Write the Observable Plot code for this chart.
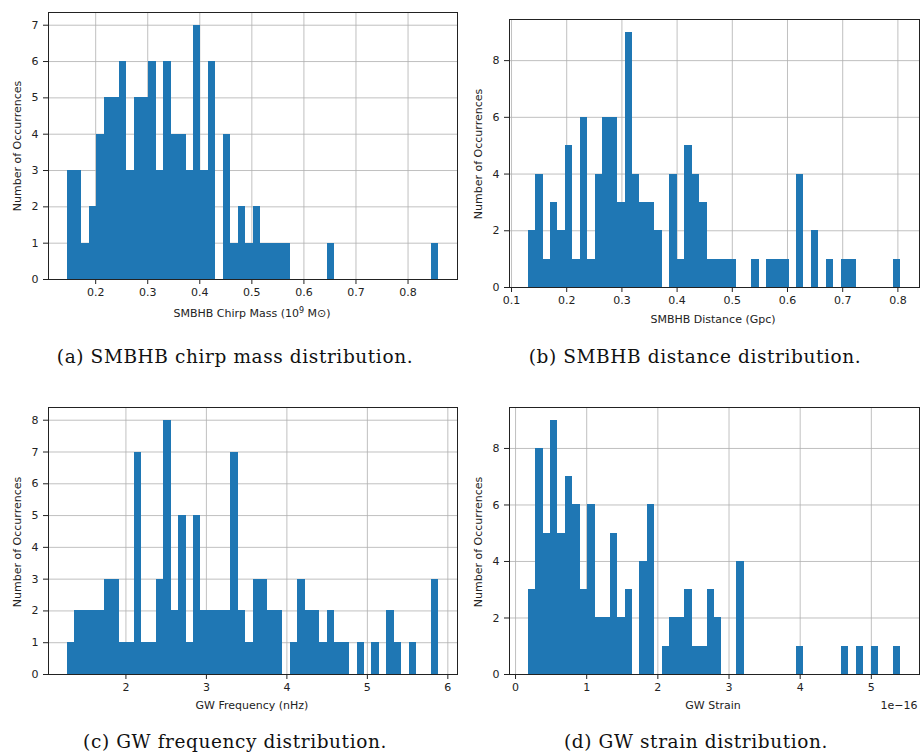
<!DOCTYPE html>
<html>
<head>
<meta charset="utf-8">
<script src="https://cdn.jsdelivr.net/npm/d3@7"></script>
<script src="https://cdn.jsdelivr.net/npm/@observablehq/plot@0.6"></script>
<style>
  html, body { margin: 0; padding: 0; background: #fff; }
  #wrap { position: relative; width: 920px; height: 753px; background: #fff; overflow: hidden; }
  #wrap svg { position: absolute; }
  .lab { position: absolute; font-family: "DejaVu Sans", sans-serif; font-size: 11px; color: #222; white-space: nowrap; transform: translate(-50%, -50%); }
  .ylab { position: absolute; font-family: "DejaVu Sans", sans-serif; font-size: 11px; color: #222; white-space: nowrap; transform: translate(-50%, -50%) rotate(-90deg); }
  .cap { position: absolute; font-family: "DejaVu Serif", serif; font-size: 18.5px; letter-spacing: 0.6px; color: #111; white-space: nowrap; transform: translate(-50%, -50%); }
  sup { font-size: 8px; vertical-align: 4px; }
</style>
</head>
<body>
<div id="wrap"></div>
<script>
// ---- data (counts per bin, 50 equal bins each) ----
const chirpRange = [0.1451, 0.8593];
const chirpCounts = [3,3,1,2,4,5,5,6,3,5, 5,6,3,6,4,4,3,7,3,6, 0,4,1,2,1,2,1,1,1,1, 0,0,0,0,0,1,0,0,0,0, 0,0,0,0,0,0,0,0,0,1];
const chirpXTicks = [0.2, 0.3, 0.4, 0.5, 0.6, 0.7, 0.8];
const chirpYTicks = [0, 1, 2, 3, 4, 5, 6, 7];

const distRange = [0.1301, 0.8054];
const distCounts = [2,4,1,3,2,5,1,6,1,4, 6,6,3,9,4,3,3,2,0,4, 1,5,4,3,1,1,1,1,0,0, 1,0,1,1,1,0,4,0,2,0, 1,0,1,1,0,0,0,0,0,1];
const distXTicks = [0.1, 0.2, 0.3, 0.4, 0.5, 0.6, 0.7, 0.8];
const distYTicks = [0, 2, 4, 6, 8];

const freqRange = [1.269, 5.889];
const freqCounts = [1,2,2,2,2,3,3,1,1,7, 1,1,3,8,2,5,1,5,2,2, 2,2,7,2,1,3,3,2,2,0, 1,3,2,2,1,2,1,1,0,1, 0,1,0,2,1,0,1,0,0,3];
const freqXTicks = [2, 3, 4, 5, 6];
const freqYTicks = [0, 1, 2, 3, 4, 5, 6, 7, 8];

const strainRange = [0.177, 5.415]; // in units of 1e-16
const strainCounts = [3,8,5,9,5,7,6,3,6,2, 2,5,2,3,0,4,6,0,1,2, 2,3,1,1,3,2,0,0,4,0, 0,0,0,0,0,0,1,0,0,0, 0,0,1,0,1,0,1,0,0,1];
const strainXTicks = [0, 1, 2, 3, 4, 5];
const strainYTicks = [0, 2, 4, 6, 8];

const xLabels = ["SMBHB Chirp Mass (10<sup>9</sup> M\u2299)", "SMBHB Distance (Gpc)", "GW Frequency (nHz)", "GW Strain"];
const yLabel = "Number of Occurrences";
const captions = ["(a) SMBHB chirp mass distribution.", "(b) SMBHB distance distribution.", "(c) GW frequency distribution.", "(d) GW strain distribution."];

// ---- drawing ----
const wrap = document.getElementById("wrap");

function bins(range, counts) {
  const n = counts.length, w = (range[1] - range[0]) / n;
  return counts.map((c, i) => ({x1: range[0] + i * w, x2: range[0] + (i + 1) * w, y: c})).filter(d => d.y > 0);
}

function pad(range) {
  const p = (range[1] - range[0]) * 0.05;
  return [range[0] - p, range[1] + p];
}

function panel(o) {
  const svg = Plot.plot({
    width: o.w, height: o.h,
    marginLeft: o.ml, marginRight: o.mr, marginTop: o.mt, marginBottom: o.mb,
    style: {fontFamily: "DejaVu Sans, sans-serif", fontSize: "11px", color: "#222", background: "transparent", overflow: "visible"},
    x: {domain: pad(o.range), ticks: o.xTicks, tickSize: 5, tickPadding: 4, label: null, tickFormat: d3.format("")},
    y: {domain: [0, o.ymax * 1.05], ticks: o.yTicks, tickSize: 5, tickPadding: 5, label: null},
    marks: [
      Plot.gridX(o.xTicks, {stroke: "#b0b0b0", strokeOpacity: 0.8, strokeWidth: 1}),
      Plot.gridY(o.yTicks, {stroke: "#b0b0b0", strokeOpacity: 0.8, strokeWidth: 1}),
      Plot.rect(bins(o.range, o.counts), {x1: "x1", x2: "x2", y1: 0, y2: "y", fill: "#1f77b4", shapeRendering: "crispEdges"}),
      Plot.frame({stroke: "#222", strokeWidth: 1})
    ]
  });
  svg.style.left = o.left + "px";
  svg.style.top = o.top + "px";
  wrap.appendChild(svg);
}

function addText(cls, html, x, y) {
  const d = document.createElement("div");
  d.className = cls;
  d.innerHTML = html;
  d.style.left = x + "px";
  d.style.top = y + "px";
  wrap.appendChild(d);
}

panel({left: 0, top: 0, w: 460, h: 330, ml: 48, mr: 3, mt: 12, mb: 51,
  range: chirpRange, counts: chirpCounts, xTicks: chirpXTicks, yTicks: chirpYTicks, ymax: d3.max(chirpCounts)});
panel({left: 460, top: 0, w: 460, h: 330, ml: 49, mr: 1, mt: 19, mb: 43,
  range: distRange, counts: distCounts, xTicks: distXTicks, yTicks: distYTicks, ymax: d3.max(distCounts)});
panel({left: 0, top: 390, w: 460, h: 363, ml: 48, mr: 3, mt: 17, mb: 79,
  range: freqRange, counts: freqCounts, xTicks: freqXTicks, yTicks: freqYTicks, ymax: d3.max(freqCounts)});
panel({left: 460, top: 390, w: 460, h: 363, ml: 49, mr: 1, mt: 17, mb: 79,
  range: strainRange, counts: strainCounts, xTicks: strainXTicks, yTicks: strainYTicks, ymax: d3.max(strainCounts)});

addText("lab", xLabels[0], 252, 313);
addText("lab", xLabels[1], 713, 319);
addText("lab", xLabels[2], 252, 705);
addText("lab", xLabels[3], 713, 705);
addText("lab", "1e\u221216", 899, 705);

addText("ylab", yLabel, 17, 146);
addText("ylab", yLabel, 478, 154);
addText("ylab", yLabel, 17, 542);
addText("ylab", yLabel, 478, 542);

addText("cap", captions[0], 235, 356);
addText("cap", captions[1], 695, 356);
addText("cap", captions[2], 235, 741);
addText("cap", captions[3], 696, 741);
</script>
</body>
</html>
